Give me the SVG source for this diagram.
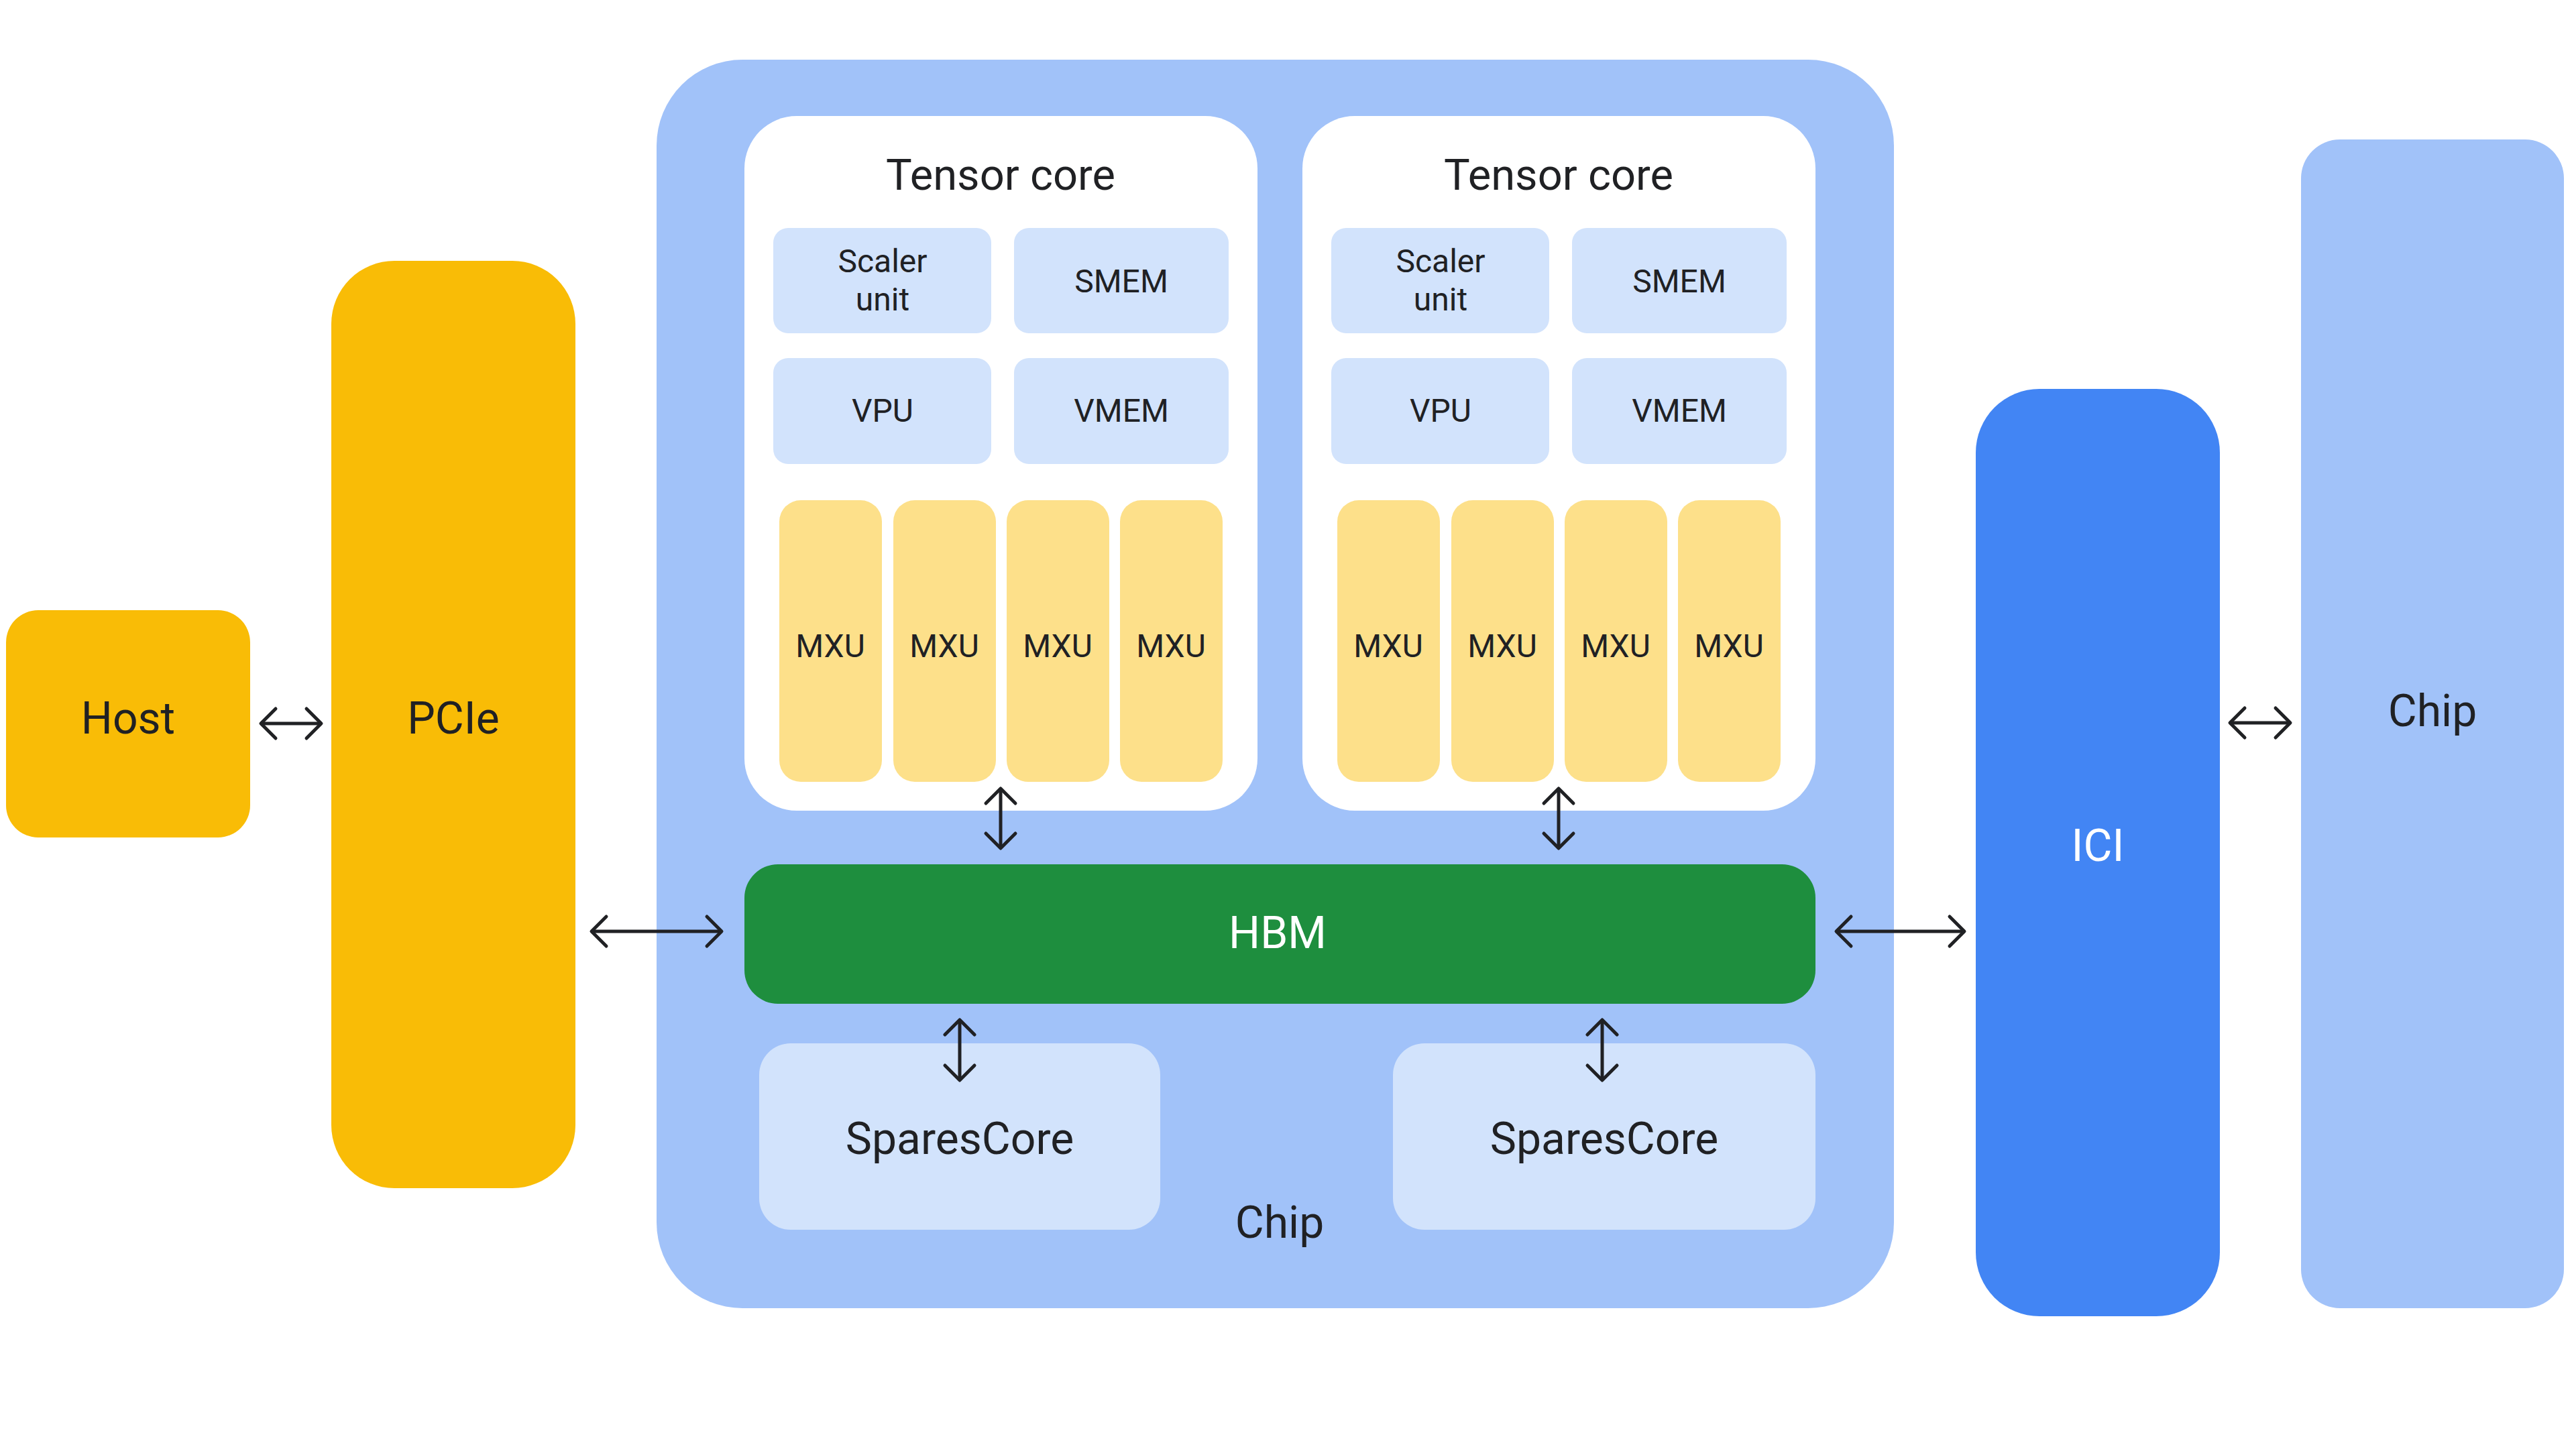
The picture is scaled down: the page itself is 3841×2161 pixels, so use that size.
<svg xmlns="http://www.w3.org/2000/svg" width="3841" height="2161" viewBox="0 0 3841 2161">
<style>
.t{font-family:Roboto,"Liberation Sans",sans-serif;fill:#202124;text-anchor:middle}
.w{fill:#ffffff}
.big{font-size:66px}
.sm{font-size:48px}
.yel{fill:#F9BC06}
.chip{fill:#A1C2F9}
.pale{fill:#D2E3FC}
.mxu{fill:#FDE08A}
.conn line{stroke:#202124;stroke-width:5;fill:none;marker-start:url(#chev);marker-end:url(#chev)}
</style>
<defs>
<marker id="chev" markerUnits="userSpaceOnUse" markerWidth="60" markerHeight="60" viewBox="-30 -30 60 60" refX="0" refY="0" orient="auto-start-reverse" overflow="visible">
<path d="M-22,-22 L0,0 L-22,22" fill="none" stroke="#202124" stroke-width="5" stroke-linecap="round" stroke-linejoin="round"/>
</marker>
</defs>
<rect width="3841" height="2161" fill="#ffffff"/>

<g id="host"><rect class="yel" x="9" y="910" width="364" height="339" rx="48"/><text class="t big" x="191" y="1094">Host</text></g>
<g id="pcie"><rect class="yel" x="494" y="389" width="364" height="1383" rx="94"/><text class="t big" x="676" y="1094">PCIe</text></g>

<g id="chip-main"><rect class="chip" x="979" y="89" width="1845" height="1862" rx="128"/><text class="t big" x="1908" y="1846">Chip</text></g>

<g id="tensor-core-1">
<rect fill="#ffffff" x="1110" y="173" width="765" height="1036" rx="78"/>
<text class="t" font-size="65" x="1492" y="283">Tensor core</text>
<rect class="pale" x="1153" y="340" width="325" height="157" rx="22"/>
<text class="t sm" x="1316" y="406">Scaler</text><text class="t sm" x="1316" y="463">unit</text>
<rect class="pale" x="1512" y="340" width="320" height="157" rx="22"/>
<text class="t sm" x="1672" y="436">SMEM</text>
<rect class="pale" x="1153" y="534" width="325" height="158" rx="22"/>
<text class="t sm" x="1316" y="629">VPU</text>
<rect class="pale" x="1512" y="534" width="320" height="158" rx="22"/>
<text class="t sm" x="1672" y="629">VMEM</text>
<rect class="mxu" x="1162" y="746" width="153" height="420" rx="32"/><text class="t sm" x="1238" y="980">MXU</text>
<rect class="mxu" x="1332" y="746" width="153" height="420" rx="32"/><text class="t sm" x="1408" y="980">MXU</text>
<rect class="mxu" x="1501" y="746" width="153" height="420" rx="32"/><text class="t sm" x="1577" y="980">MXU</text>
<rect class="mxu" x="1670" y="746" width="153" height="420" rx="32"/><text class="t sm" x="1746" y="980">MXU</text>
</g>

<g id="tensor-core-2">
<rect fill="#ffffff" x="1942" y="173" width="765" height="1036" rx="78"/>
<text class="t" font-size="65" x="2324" y="283">Tensor core</text>
<rect class="pale" x="1985" y="340" width="325" height="157" rx="22"/>
<text class="t sm" x="2148" y="406">Scaler</text><text class="t sm" x="2148" y="463">unit</text>
<rect class="pale" x="2344" y="340" width="320" height="157" rx="22"/>
<text class="t sm" x="2504" y="436">SMEM</text>
<rect class="pale" x="1985" y="534" width="325" height="158" rx="22"/>
<text class="t sm" x="2148" y="629">VPU</text>
<rect class="pale" x="2344" y="534" width="320" height="158" rx="22"/>
<text class="t sm" x="2504" y="629">VMEM</text>
<rect class="mxu" x="1994" y="746" width="153" height="420" rx="32"/><text class="t sm" x="2070" y="980">MXU</text>
<rect class="mxu" x="2164" y="746" width="153" height="420" rx="32"/><text class="t sm" x="2240" y="980">MXU</text>
<rect class="mxu" x="2333" y="746" width="153" height="420" rx="32"/><text class="t sm" x="2409" y="980">MXU</text>
<rect class="mxu" x="2502" y="746" width="153" height="420" rx="32"/><text class="t sm" x="2578" y="980">MXU</text>
</g>

<g id="hbm"><rect fill="#1E8E3E" x="1110" y="1289" width="1597" height="208" rx="50"/><text class="t w big" x="1905" y="1414">HBM</text></g>

<g id="sparescore-1"><rect class="pale" x="1132" y="1556" width="598" height="278" rx="47"/><text class="t big" x="1431" y="1721">SparesCore</text></g>
<g id="sparescore-2"><rect class="pale" x="2077" y="1556" width="630" height="278" rx="47"/><text class="t big" x="2392" y="1721">SparesCore</text></g>

<g id="ici"><rect fill="#4285F4" x="2946" y="580" width="364" height="1383" rx="95"/><text class="t w big" x="3128" y="1284">ICI</text></g>

<g id="chip-right"><rect class="chip" x="3431" y="208" width="392" height="1743" rx="58"/><text class="t big" x="3627" y="1083">Chip</text></g>

<g id="connectors" class="conn">
<line x1="389" y1="1079" x2="479" y2="1079"/>
<line x1="882" y1="1389" x2="1076" y2="1389"/>
<line x1="2738" y1="1389" x2="2929" y2="1389"/>
<line x1="3325" y1="1078" x2="3415" y2="1078"/>
<line x1="1492" y1="1176" x2="1492" y2="1265"/>
<line x1="2324" y1="1176" x2="2324" y2="1265"/>
<line x1="1431" y1="1521" x2="1431" y2="1611"/>
<line x1="2389" y1="1521" x2="2389" y2="1611"/>
</g>
</svg>
